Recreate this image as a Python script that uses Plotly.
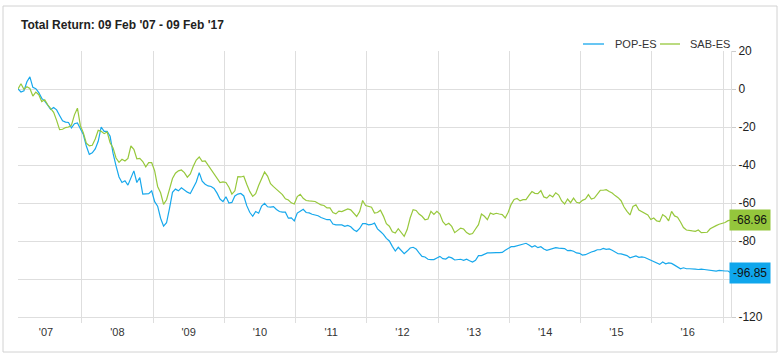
import pandas as pd
import plotly.graph_objects as go

start_date = "2007-02-09"
end_date = "2017-02-09"
n_points = 241

pop_es = [
    0, -1.6, -1.0, 3.8, 6.4, 0.9, 0.2, -1.9, -4.9, -6.4,
    -8.5, -10.8, -9.7, -11.0, -13.9, -16.7, -17.4, -17.6, -20.5, -18.3,
    -17.9, -20.9, -24.0, -30.0, -34.4, -33.6, -31.5, -27.5, -20.0, -22.3,
    -22.3, -24.9, -33.9, -40.5, -46.3, -49.2, -48.3, -50.6, -47.1, -43.1,
    -49.2, -46.6, -55.3, -55.3, -55.1, -53.6, -59.3, -61.7, -68.0, -72.2,
    -70.4, -62.8, -54.4, -52.7, -53.6, -52.0, -53.2, -54.3, -55.0, -51.8,
    -48.9, -44.0, -48.5, -50.1, -51.0, -51.3, -52.3, -54.8, -57.9, -59.3,
    -56.7, -60.0, -59.7, -56.3, -55.3, -55.0, -56.3, -61.4, -64.9, -67.0,
    -64.5, -65.4, -61.6, -60.2, -62.0, -62.2, -61.9, -63.4, -64.5, -64.8,
    -64.8, -68.0, -67.8, -69.4, -65.3, -64.3, -63.3, -65.0, -65.2, -65.9,
    -66.2, -66.7, -67.6, -68.1, -68.8, -68.7, -71.1, -71.5, -71.5, -71.5,
    -72.3, -71.8, -72.5, -74.1, -75.0, -73.4, -70.9, -70.9, -71.5, -71.3,
    -70.6, -73.6, -75.0, -76.5, -78.6, -80.0, -82.8, -85.3, -83.3, -85.1,
    -86.7, -85.3, -83.7, -83.3, -84.2, -86.3, -88.1, -88.4, -89.6, -89.8,
    -89.8, -88.9, -88.1, -89.3, -89.5, -88.4, -88.9, -90.0, -89.6, -89.6,
    -90.2, -89.6, -90.4, -91.1, -90.2, -87.7, -87.7, -87.0, -86.3, -86.3,
    -86.0, -86.1, -86.1, -86.0, -84.9, -83.9, -83.0, -83.0, -82.6, -82.1,
    -81.9, -81.2, -82.1, -83.2, -82.5, -83.5, -83.0, -84.2, -84.9, -84.4,
    -83.9, -83.5, -83.7, -83.7, -84.0, -85.1, -84.9, -85.4, -86.3, -86.5,
    -87.4, -87.2, -86.3, -85.8, -85.3, -84.6, -84.6, -83.9, -84.4, -84.2,
    -84.9, -86.0, -86.7, -86.8, -87.2, -87.7, -88.8, -88.2, -87.9, -88.6,
    -88.4, -88.7, -89.5, -90.1, -91.1, -91.8, -92.3, -91.1, -92.0, -91.5,
    -91.8, -92.7, -93.6, -94.6, -94.1, -94.6, -94.6, -94.6, -94.8, -95.0,
    -94.8, -95.0, -95.3, -95.5, -95.8, -95.8, -95.5, -95.8, -95.8, -95.8,
    -96.85,
]

sab_es = [
    0, 2.8, -0.2, 1.2, 0.3, -3.7, -1.6, -3.0, -6.6, -5.7,
    -8.3, -10.4, -12.3, -16.5, -21.4, -21.2, -20.3, -20.0, -19.0, -13.6,
    -10.1, -19.3, -23.1, -28.5, -29.9, -29.6, -26.3, -21.7, -22.3, -23.5,
    -22.6, -28.3, -31.0, -36.3, -38.6, -37.0, -37.9, -36.5, -30.0, -31.8,
    -36.7, -36.5, -38.2, -41.0, -38.8, -38.8, -43.1, -51.3, -54.6, -60.7,
    -58.3, -52.7, -47.1, -44.3, -43.1, -42.6, -44.0, -46.4, -44.7, -40.7,
    -37.4, -35.8, -38.1, -37.9, -40.2, -42.6, -44.7, -46.8, -49.2, -48.9,
    -49.2, -51.7, -55.3, -53.6, -46.1, -46.3, -45.9, -50.1, -53.9, -56.5,
    -55.1, -50.8, -46.8, -43.7, -45.8, -49.8, -51.4, -52.8, -54.0, -55.6,
    -57.8, -58.4, -59.9, -60.5, -56.6, -55.4, -57.5, -58.7, -58.9, -59.2,
    -59.2, -60.1, -61.0, -61.3, -62.6, -62.6, -65.0, -65.7, -64.3, -64.5,
    -63.6, -63.1, -63.6, -65.3, -67.1, -64.5, -58.7, -61.3, -61.9, -62.2,
    -65.3, -65.0, -63.8, -66.9, -70.9, -72.2, -75.1, -75.8, -73.5, -75.6,
    -77.5, -74.0, -67.9, -63.5, -63.9, -65.8, -67.0, -68.8, -68.4, -64.4,
    -66.0, -64.4, -65.8, -69.8, -71.6, -70.7, -72.3, -75.6, -74.6, -73.2,
    -73.7, -75.6, -76.5, -76.1, -73.7, -71.4, -65.8, -67.0, -68.8, -65.3,
    -66.0, -65.4, -65.8, -66.1, -67.9, -64.9, -60.7, -58.1, -57.6, -58.9,
    -58.2, -58.2, -56.0, -54.0, -54.9, -55.1, -53.5, -56.8, -57.4, -55.8,
    -56.8, -54.6, -55.8, -58.9, -60.5, -57.9, -59.8, -57.4, -59.6, -60.0,
    -58.6, -57.9, -55.6, -57.9, -57.4, -55.4, -53.3, -53.3, -53.0, -53.9,
    -54.7, -56.1, -57.2, -58.8, -62.1, -64.4, -66.3, -61.8, -60.9, -63.7,
    -64.6, -65.2, -66.3, -68.7, -67.9, -69.4, -69.8, -66.1, -67.2, -69.4,
    -64.4, -66.8, -67.5, -70.0, -72.9, -74.2, -74.3, -74.7, -74.9, -74.2,
    -75.6, -75.6, -75.4, -73.6, -72.6, -71.9, -71.2, -70.7, -70.3, -69.3,
    -68.96,
]

series_names = ["POP-ES", "SAB-ES"]
y_tick_values = [20, 0, -20, -40, -60, -80, -100, -120]
# the -100 label is hidden behind the POP-ES end-value box in the reference
y_tick_labels = ["20", "0", "-20", "-40", "-60", "-80", "", "-120"]
title_text = "Total Return: 09 Feb '07 - 09 Feb '17"

dates = pd.date_range(start_date, end_date, periods=n_points)

BLUE = "#17a8ec"
GREEN = "#97c83c"
BLUE_BOX = "#0fa6ec"
GREEN_BOX = "#94c63c"
GRID = "#dedede"
FONT = "Liberation Sans, Arial, sans-serif"

fig = go.Figure()
fig.add_trace(go.Scatter(x=dates, y=pop_es, mode="lines", name=series_names[0],
                         line=dict(color=BLUE, width=1.2), showlegend=False))
fig.add_trace(go.Scatter(x=dates, y=sab_es, mode="lines", name=series_names[1],
                         line=dict(color=GREEN, width=1.2), showlegend=False))

W, H = 780, 355
L, R, T, B = 18, 49, 51, 38
pw, ph = W - L - R, H - T - B


def px(x):
    return (x - L) / pw


def py(y):
    return (H - B - y) / ph


shapes = [
    dict(type="rect", xref="paper", yref="paper", x0=px(3), x1=px(777), y0=py(352), y1=py(6),
         line=dict(color="#d2d2d2", width=1), fillcolor="rgba(0,0,0,0)", layer="below"),
    dict(type="line", xref="paper", yref="paper", x0=px(583), x1=px(604), y0=py(44), y1=py(44),
         line=dict(color=BLUE, width=1.3)),
    dict(type="line", xref="paper", yref="paper", x0=px(660), x1=px(680), y0=py(44), y1=py(44),
         line=dict(color=GREEN, width=1.3)),
]

annotations = [
    dict(xref="paper", yref="paper", x=px(613), y=py(44), xanchor="left", yanchor="middle",
         text=series_names[0], showarrow=False, font=dict(family=FONT, size=11, color="#333")),
    dict(xref="paper", yref="paper", x=px(688), y=py(44), xanchor="left", yanchor="middle",
         text=series_names[1], showarrow=False, font=dict(family=FONT, size=11, color="#333")),
    dict(xref="paper", yref="y", x=1, y=sab_es[-1], xanchor="left", yanchor="middle", xshift=-2,
         text=f"{sab_es[-1]:.2f}", showarrow=False, bgcolor=GREEN_BOX, borderpad=3,
         font=dict(family=FONT, size=12, color="#111")),
    dict(xref="paper", yref="y", x=1, y=pop_es[-1], xanchor="left", yanchor="middle", xshift=-2,
         text=f"{pop_es[-1]:.2f}", showarrow=False, bgcolor=BLUE_BOX, borderpad=3,
         font=dict(family=FONT, size=12, color="#111")),
]

fig.update_layout(
    width=W, height=H,
    margin=dict(l=L, r=R, t=T, b=B, pad=0),
    paper_bgcolor="white", plot_bgcolor="white",
    font=dict(family=FONT, size=11, color="#333"),
    title=dict(text="<b>" + title_text + "</b>", x=21 / W, xanchor="left", xref="container",
               y=1 - 25 / H, yanchor="middle", yref="container",
               font=dict(family=FONT, size=12, color="#222")),
    shapes=shapes,
    annotations=annotations,
    showlegend=False,
)

fig.update_xaxes(
    range=[start_date, end_date], type="date",
    tick0="2007-01-01", dtick="M12", ticklabelmode="period", tickformat="'%y",
    showgrid=True, gridcolor=GRID, gridwidth=1,
    ticks="outside", ticklen=5, tickcolor=GRID,
    showline=True, linecolor=GRID, linewidth=1,
    tickfont=dict(family=FONT, size=11, color="#333"),
    zeroline=False,
)
fig.update_yaxes(
    range=[-120, 20], side="right",
    tickmode="array", tickvals=y_tick_values, ticktext=y_tick_labels,
    showgrid=True, gridcolor=GRID, gridwidth=1,
    ticks="outside", ticklen=4, tickcolor="#cccccc",
    showline=True, linecolor=GRID, linewidth=1,
    tickfont=dict(family=FONT, size=12, color="#222"),
    zeroline=False,
)

fig.write_html("out.html")
